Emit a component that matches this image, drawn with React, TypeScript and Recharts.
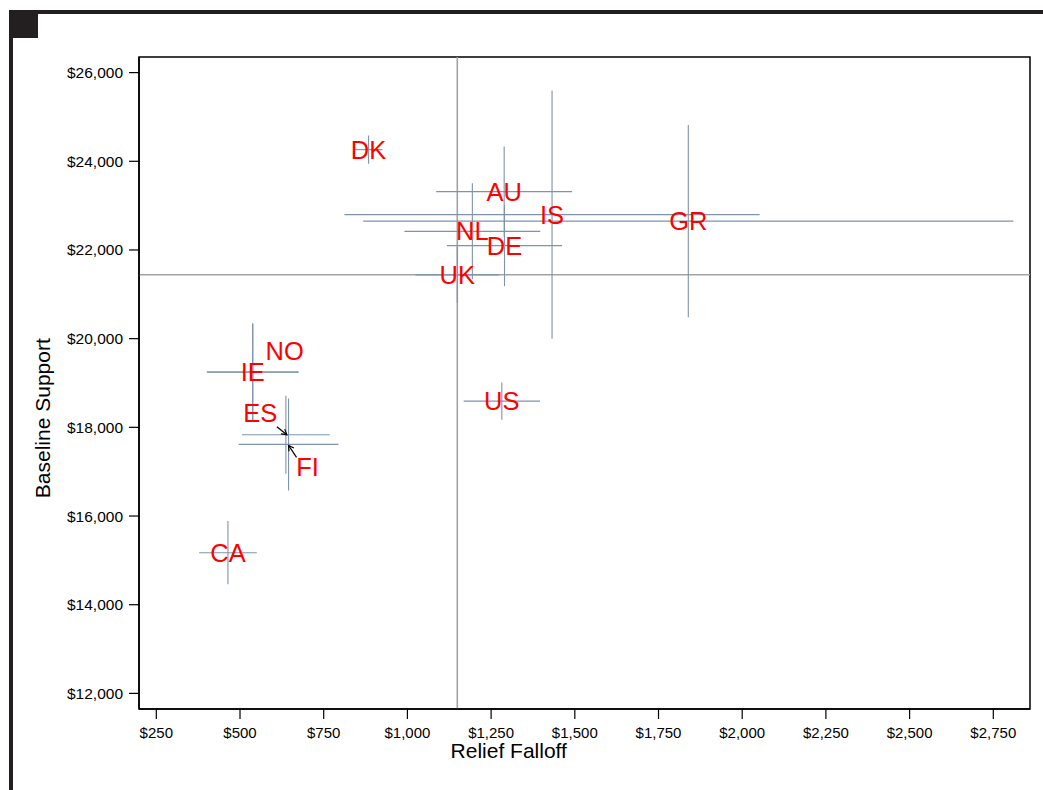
import React from 'react';
import { ScatterChart, Scatter, XAxis, YAxis, ErrorBar, ReferenceLine, ReferenceArea, Label } from 'recharts';

// country codes and their values
const codes = ['DK', 'AU', 'IS', 'GR', 'NL', 'DE', 'UK', 'US', 'NO', 'IE', 'ES', 'FI', 'CA'];
const reliefFalloff = [884, 1289, 1432, 1839, 1194, 1290, 1149, 1282, 538, 538, 637, 645, 464];
const reliefErr = [42, 203, 620, 971, 203, 172, 125, 114, 137, 137, 131, 149, 86];
const baselineSupport = [24263, 23316, 22797, 22650, 22420, 22097, 21439, 18592, 19248, 19246, 17834, 17615, 15172];
const baselineErr = [320, 1015, 2797, 2166, 1083, 914, 630, 422, 1094, 1094, 880, 1038, 713];

const xTicks = [250, 500, 750, 1000, 1250, 1500, 1750, 2000, 2250, 2500, 2750];
const yTicks = [12000, 14000, 16000, 18000, 20000, 22000, 24000, 26000];
const xDomain = [198.3, 2859.6];
const yDomain = [11648, 26352];
const refX = 1149;
const refY = 21440;

const data = codes.map((code, i) => ({
  code,
  x: reliefFalloff[i],
  y: baselineSupport[i],
  xErr: reliefErr[i],
  yErr: baselineErr[i],
}));

const FONT = '"Liberation Sans", Arial, sans-serif';
const ERR_COLOR = '#7f93ab';
const REF_COLOR = '#a3a3a3';

// label nudges (pixels) for the crowded points, with leader arrows
const NUDGE: Record<string, { dx: number; dy: number; arrow?: number[] }> = {
  NO: { dx: 32, dy: -21 },
  ES: { dx: -25.5, dy: -22, arrow: [-9, -8, 1, 0] },
  FI: { dx: 19, dy: 23, arrow: [8, 13, 0, 1] },
};

const money = (v: number) => '$' + v.toLocaleString('en-US');

const Arrow = ({ x1, y1, x2, y2 }: { x1: number; y1: number; x2: number; y2: number }) => {
  const a = Math.atan2(y2 - y1, x2 - x1);
  const len = 6;
  const h1x = x2 - len * Math.cos(a - Math.PI / 6);
  const h1y = y2 - len * Math.sin(a - Math.PI / 6);
  const h2x = x2 - len * Math.cos(a + Math.PI / 6);
  const h2y = y2 - len * Math.sin(a + Math.PI / 6);
  return (
    <g stroke="#000" strokeWidth={1.2} fill="none">
      <line x1={x1} y1={y1} x2={x2} y2={y2} />
      <polyline points={`${h1x},${h1y} ${x2},${y2} ${h2x},${h2y}`} />
    </g>
  );
};

const CodeLabel = (props: any) => {
  const { cx, cy, payload } = props;
  if (cx == null || cy == null) return null;
  const n = NUDGE[payload.code] || { dx: 0, dy: 0 };
  return (
    <g>
      {n.arrow && (
        <Arrow x1={cx + n.arrow[0]} y1={cy + n.arrow[1]} x2={cx + n.arrow[2]} y2={cy + n.arrow[3]} />
      )}
      <text x={cx + n.dx} y={cy + n.dy + 9} textAnchor="middle" fill="#ff0000" fontSize={25.5} fontFamily={FONT}>
        {payload.code}
      </text>
    </g>
  );
};

const XTitle = (props: any) => {
  const vb = props.viewBox;
  return (
    <text x={vb.x + vb.width * 0.415} y={758} textAnchor="middle" fontSize={21} fontFamily={FONT} fill="#000">
      Relief Falloff
    </text>
  );
};

const YTitle = (props: any) => {
  const vb = props.viewBox;
  const y = vb.y + vb.height * 0.554;
  return (
    <text x={50} y={y} transform={`rotate(-90, 50, ${y})`} textAnchor="middle" fontSize={21} fontFamily={FONT} fill="#000">
      Baseline Support
    </text>
  );
};

export default function App() {
  return (
    <div style={{ position: 'absolute', left: 0, top: 0, width: 1043, height: 790, background: '#fff', overflow: 'hidden' }}>
      <div style={{ position: 'absolute', left: 9, top: 10, width: 1034, height: 4, background: '#231f20' }} />
      <div style={{ position: 'absolute', left: 9, top: 10, width: 4, height: 780, background: '#231f20' }} />
      <div style={{ position: 'absolute', left: 9, top: 10, width: 29, height: 28, background: '#231f20' }} />
      <div style={{ position: 'absolute', left: 0, top: 0 }}>
        <ScatterChart width={1043} height={790} margin={{ top: 57, right: 13, bottom: 31, left: 39 }}>
          <XAxis
            type="number"
            dataKey="x"
            domain={xDomain}
            ticks={xTicks}
            allowDataOverflow
            height={50}
            tickFormatter={money}
            tickSize={10}
            tickMargin={8}
            axisLine={{ stroke: '#000', strokeWidth: 1.5 }}
            tickLine={{ stroke: '#000', strokeWidth: 1.2 }}
            tick={{ fill: '#000', fontSize: 15, fontFamily: FONT }}
          >
            <Label content={XTitle} />
          </XAxis>
          <YAxis
            type="number"
            dataKey="y"
            domain={yDomain}
            ticks={yTicks}
            allowDataOverflow
            width={100}
            tickFormatter={money}
            tickSize={10}
            tickMargin={6}
            axisLine={{ stroke: '#000', strokeWidth: 1.5 }}
            tickLine={{ stroke: '#000', strokeWidth: 1.2 }}
            tick={{ fill: '#000', fontSize: 15.5, fontFamily: FONT }}
          >
            <Label content={YTitle} />
          </YAxis>
          <ReferenceArea
            x1={xDomain[0]}
            x2={xDomain[1]}
            y1={yDomain[0]}
            y2={yDomain[1]}
            fill="none"
            stroke="#000"
            strokeWidth={1.5}
            fillOpacity={0}
          />
          <ReferenceLine x={refX} stroke={REF_COLOR} strokeWidth={1.6} />
          <ReferenceLine y={refY} stroke={REF_COLOR} strokeWidth={1.6} />
          <Scatter data={data} isAnimationActive={false} shape={CodeLabel}>
            <ErrorBar dataKey="xErr" direction="x" width={0} stroke={ERR_COLOR} strokeWidth={1.1} isAnimationActive={false} />
            <ErrorBar dataKey="yErr" direction="y" width={0} stroke={ERR_COLOR} strokeWidth={1.1} isAnimationActive={false} />
          </Scatter>
        </ScatterChart>
      </div>
    </div>
  );
}
